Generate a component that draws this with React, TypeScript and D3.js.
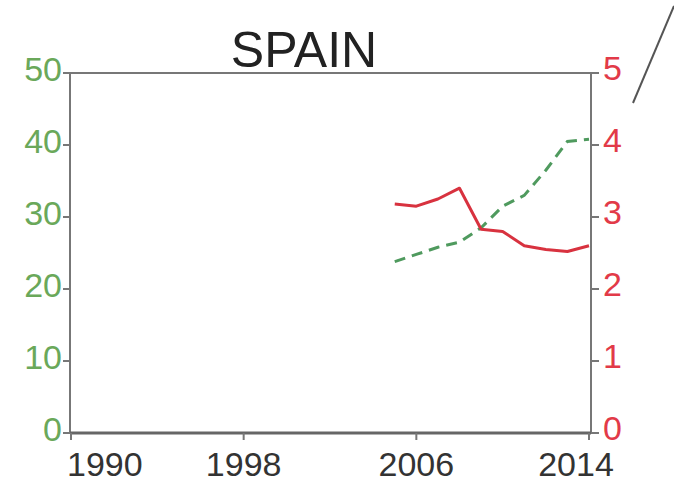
import React from "react";
import * as d3 from "d3";

const years = [2005, 2006, 2007, 2008, 2009, 2010, 2011, 2012, 2013, 2014];
const greenSeries = [23.8, 24.8, 25.8, 26.5, 28.5, 31.5, 33.0, 36.5, 40.5, 40.8];
const redSeries = [3.18, 3.15, 3.25, 3.4, 2.83, 2.8, 2.6, 2.55, 2.52, 2.6];
const xTicks = [1990, 1998, 2006, 2014];
const leftTicks = [0, 10, 20, 30, 40, 50];
const rightTicks = [0, 1, 2, 3, 4, 5];
const title = "SPAIN";

const W = 674;
const H = 483;
const L = 70, R = 591, T = 73, B = 433;
const GREEN = "#6aa85a";
const RED = "#e23a48";
const FONT = "'Liberation Sans', Arial, sans-serif";

export default function App() {
  const x = d3.scaleLinear().domain([1990, 2014]).range([L + 1, R - 2]);
  const yL = d3.scaleLinear().domain([0, 50]).range([B, T]);
  const yR = d3.scaleLinear().domain([0, 5]).range([B, T]);

  const greenLine = d3
    .line<number>()
    .x((_, i) => x(years[i]))
    .y((d) => yL(d))
    .curve(d3.curveLinear);
  const redLine = d3
    .line<number>()
    .x((_, i) => x(years[i]))
    .y((d) => yR(d))
    .curve(d3.curveLinear);

  return (
    <svg
      width={W}
      height={H}
      style={{ position: "absolute", left: 0, top: 0, background: "#fff" }}
    >
      <rect x={0} y={0} width={W} height={H} fill="#fff" />
      {/* decorative diagonal stroke at top right */}
      <line x1={633} y1={103} x2={674} y2={6} stroke="#555" strokeWidth={2} />

      <text
        x={304}
        y={67}
        textAnchor="middle"
        fontFamily={FONT}
        fontSize={50}
        fill="#222"
      >
        {title}
      </text>

      {/* plot frame */}
      <rect x={L} y={T} width={R - L} height={B - T} fill="none" stroke="#777" strokeWidth={2} />
      <line x1={L} y1={B} x2={R} y2={B} stroke="#666" strokeWidth={3} />

      {/* left axis */}
      {leftTicks.map((t) => (
        <g key={"l" + t}>
          <line x1={L - 7} x2={L} y1={yL(t)} y2={yL(t)} stroke="#777" strokeWidth={2} />
          <text
            x={L - 8}
            y={yL(t) - 1}
            textAnchor="end"
            dominantBaseline="middle"
            fontFamily={FONT}
            fontSize={34}
            fill={GREEN}
          >
            {t}
          </text>
        </g>
      ))}

      {/* right axis */}
      {rightTicks.map((t) => (
        <g key={"r" + t}>
          <line x1={R} x2={R + 8} y1={yR(t)} y2={yR(t)} stroke="#777" strokeWidth={2} />
          <text
            x={R + 12}
            y={yR(t) - 2}
            textAnchor="start"
            dominantBaseline="middle"
            fontFamily={FONT}
            fontSize={34}
            fill={RED}
          >
            {t}
          </text>
        </g>
      ))}

      {/* bottom axis */}
      {xTicks.map((t, i) => {
        const last = i === xTicks.length - 1;
        const first = i === 0;
        const tx = first ? x(t) - 4 : last ? x(t) - 13 : x(t);
        return (
          <g key={"x" + t}>
            <line x1={x(t)} x2={x(t)} y1={B} y2={B + 7} stroke="#777" strokeWidth={2} />
            <text
              x={tx}
              y={476}
              textAnchor={first ? "start" : "middle"}
              fontFamily={FONT}
              fontSize={34}
              fill="#333"
            >
              {t}
            </text>
          </g>
        );
      })}

      <path
        d={greenLine(greenSeries) || ""}
        fill="none"
        stroke="#4f9a5e"
        strokeWidth={3}
        strokeDasharray="11 7"
      />
      <path
        d={redLine(redSeries) || ""}
        fill="none"
        stroke="#d8323f"
        strokeWidth={3}
        strokeLinejoin="round"
      />
    </svg>
  );
}
